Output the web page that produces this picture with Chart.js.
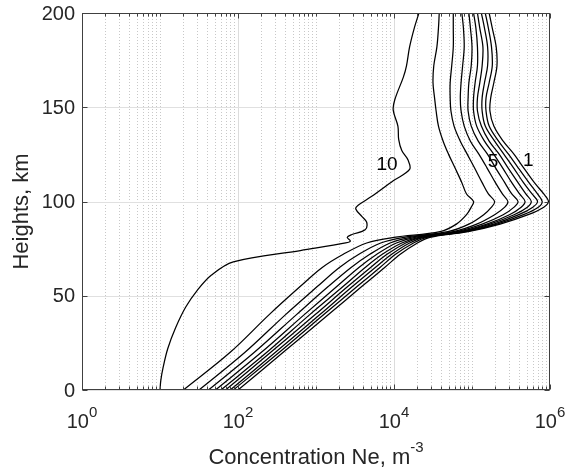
<!DOCTYPE html>
<html>
<head>
<meta charset="utf-8">
<script src="https://cdn.jsdelivr.net/npm/chart.js@4.4.0/dist/chart.umd.min.js"></script>
<style>
  html, body { margin: 0; padding: 0; background: #fff; }
  #wrap { width: 580px; height: 475px; }
</style>
</head>
<body>
<div id="wrap"><canvas id="neChart" width="580" height="475"></canvas></div>
<script>
// heights, km (shared by curves 1..9)
const heights = [0, 20, 40, 55, 65, 72, 78, 81, 84, 88, 93, 97, 100, 104, 110, 118, 125, 132, 140, 148, 155, 163, 172, 182, 192, 200];

// log10 of Ne, m^-3
const logNe1 = [2.00, 2.58, 3.16, 3.59, 3.88, 4.08, 4.30, 4.46, 4.95, 5.36, 5.72, 5.92, 5.98, 5.92, 5.80, 5.66, 5.54, 5.40, 5.28, 5.23, 5.24, 5.28, 5.32, 5.31, 5.26, 5.22];
const logNe2 = [1.94, 2.53, 3.10, 3.53, 3.82, 4.02, 4.25, 4.42, 4.92, 5.32, 5.66, 5.85, 5.90, 5.84, 5.73, 5.59, 5.47, 5.34, 5.22, 5.18, 5.18, 5.22, 5.26, 5.25, 5.21, 5.17];
const logNe3 = [1.90, 2.48, 3.05, 3.47, 3.76, 3.97, 4.20, 4.39, 4.90, 5.28, 5.60, 5.78, 5.84, 5.77, 5.66, 5.53, 5.41, 5.29, 5.17, 5.13, 5.13, 5.16, 5.20, 5.20, 5.16, 5.12];
const logNe4 = [1.84, 2.42, 2.99, 3.41, 3.70, 3.91, 4.15, 4.35, 4.87, 5.23, 5.54, 5.71, 5.76, 5.69, 5.59, 5.46, 5.35, 5.22, 5.12, 5.07, 5.07, 5.10, 5.13, 5.14, 5.10, 5.07];
const logNe5 = [1.78, 2.37, 2.92, 3.35, 3.63, 3.85, 4.10, 4.32, 4.84, 5.19, 5.48, 5.63, 5.68, 5.61, 5.51, 5.39, 5.28, 5.16, 5.06, 5.02, 5.02, 5.04, 5.07, 5.07, 5.05, 5.02];
const logNe6 = [1.71, 2.30, 2.85, 3.27, 3.55, 3.78, 4.03, 4.27, 4.80, 5.13, 5.40, 5.54, 5.59, 5.51, 5.42, 5.30, 5.20, 5.08, 4.99, 4.95, 4.95, 4.96, 4.99, 5.00, 4.98, 4.96];
const logNe7 = [1.62, 2.21, 2.75, 3.16, 3.45, 3.69, 3.95, 4.21, 4.76, 5.06, 5.29, 5.42, 5.46, 5.39, 5.30, 5.19, 5.09, 4.98, 4.90, 4.86, 4.85, 4.86, 4.88, 4.90, 4.89, 4.87];
const logNe8 = [1.50, 2.09, 2.61, 3.02, 3.30, 3.55, 3.83, 4.13, 4.69, 4.96, 5.15, 5.25, 5.29, 5.21, 5.13, 5.03, 4.94, 4.85, 4.77, 4.73, 4.72, 4.72, 4.74, 4.76, 4.76, 4.76];
const logNe9 = [1.30, 1.90, 2.40, 2.80, 3.08, 3.35, 3.65, 4.00, 4.59, 4.80, 4.93, 4.99, 5.02, 4.93, 4.87, 4.78, 4.70, 4.63, 4.57, 4.54, 4.52, 4.50, 4.51, 4.55, 4.57, 4.58];

// curve 10 has its own height grid
const heights10 = [0, 5, 12, 22, 33, 44, 53, 61, 68, 74, 78, 79, 81, 82.5, 85, 89, 92, 96, 98, 102.6, 111, 117, 122, 127, 133, 140, 148.5, 154, 166, 172, 182, 192, 200];
const logNe10 = [1.00, 1.01, 1.04, 1.10, 1.20, 1.33, 1.48, 1.66, 1.94, 2.80, 3.38, 3.44, 3.40, 3.46, 3.63, 3.65, 3.59, 3.51, 3.54, 3.71, 3.99, 4.20, 4.18, 4.10, 4.06, 4.05, 3.99, 4.01, 4.12, 4.16, 4.20, 4.26, 4.32];

const xTickPowers = [0, 2, 4, 6];
const yTickValues = [0, 50, 100, 150, 200];
const curveNames = ['10', '5', '1'];

const FONT = "'Liberation Sans', Arial, sans-serif";
const AXIS_COLOR = '#404040';
const TEXT_COLOR = '#262626';

const series = [logNe1, logNe2, logNe3, logNe4, logNe5, logNe6, logNe7, logNe8, logNe9];
const datasets = series.map((arr, i) => ({
  label: 'Curve ' + (i + 1),
  data: arr.map((v, j) => ({ x: 10 ** v, y: heights[j] }))
}));
datasets.push({
  label: 'Curve 10',
  data: logNe10.map((v, j) => ({ x: 10 ** v, y: heights10[j] }))
});
datasets.forEach(d => Object.assign(d, {
  showLine: true,
  borderColor: '#000',
  borderWidth: 1.25,
  pointRadius: 0,
  tension: 0.35,
  fill: false
}));

// where the curve numbers sit (data units)
const labelSpots = [
  { ne: 10 ** 3.91, h: 119.5 },
  { ne: 10 ** 5.27, h: 121 },
  { ne: 10 ** 5.72, h: 121.5 }
];

const frame = {
  id: 'frame',
  beforeDatasetsDraw(chart) {
    const { ctx, chartArea: a, scales: { x, y } } = chart;
    ctx.save();
    ctx.lineWidth = 1;
    // vertical grid
    for (let k = 0; k < 6; k++) {
      for (let m = 1; m <= 9; m++) {
        const px = Math.round(x.getPixelForValue(m * 10 ** k)) + 0.5;
        if (px <= a.left + 1) continue;
        const major = m === 1 && k % 2 === 0;
        ctx.strokeStyle = major ? '#dcdcdc' : '#c8c8c8';
        ctx.setLineDash(major ? [] : [1, 2]);
        ctx.beginPath();
        ctx.moveTo(px, a.top);
        ctx.lineTo(px, a.bottom);
        ctx.stroke();
      }
    }
    // horizontal grid
    ctx.setLineDash([]);
    ctx.strokeStyle = '#e0e0e0';
    yTickValues.forEach(v => {
      const py = Math.round(y.getPixelForValue(v)) + 0.5;
      ctx.beginPath();
      ctx.moveTo(a.left, py);
      ctx.lineTo(a.right, py);
      ctx.stroke();
    });
    ctx.restore();
  },
  afterDatasetsDraw(chart) {
    const { ctx, chartArea: a, scales: { x, y } } = chart;
    ctx.save();
    ctx.strokeStyle = AXIS_COLOR;
    ctx.lineWidth = 1;
    const L = Math.round(a.left) + 0.5, R = Math.round(a.right) - 0.5;
    const T = Math.round(a.top) + 0.5, B = Math.round(a.bottom) - 0.5;
    ctx.strokeRect(L, T, R - L, B - T);

    // x ticks, inward on bottom and top
    ctx.beginPath();
    for (let k = 0; k <= 6; k++) {
      for (let m = 1; m <= 9; m++) {
        if (k === 6 && m > 1) break;
        const px = Math.round(x.getPixelForValue(m * 10 ** k)) + 0.5;
        const len = (m === 1 && k % 2 === 0) ? 5 : 3;
        ctx.moveTo(px, B); ctx.lineTo(px, B - len);
        ctx.moveTo(px, T); ctx.lineTo(px, T + len);
      }
    }
    // y ticks, inward on left and right
    yTickValues.forEach(v => {
      const py = Math.round(y.getPixelForValue(v)) + 0.5;
      ctx.moveTo(L, py); ctx.lineTo(L + 5, py);
      ctx.moveTo(R, py); ctx.lineTo(R - 5, py);
    });
    ctx.stroke();

    ctx.fillStyle = TEXT_COLOR;

    // y tick labels
    ctx.font = '20px ' + FONT;
    ctx.textAlign = 'right';
    ctx.textBaseline = 'middle';
    yTickValues.forEach(v => {
      ctx.fillText(String(v), a.left - 7, y.getPixelForValue(v) + 1);
    });

    // x tick labels 10^n
    ctx.textBaseline = 'alphabetic';
    ctx.textAlign = 'left';
    xTickPowers.forEach(p => {
      const px = x.getPixelForValue(10 ** p);
      ctx.font = '20px ' + FONT;
      const wb = ctx.measureText('10').width;
      ctx.font = '15px ' + FONT;
      const ws = ctx.measureText(String(p)).width;
      const x0 = px - (wb + ws) / 2;
      ctx.font = '20px ' + FONT;
      ctx.fillText('10', x0, 428);
      ctx.font = '15px ' + FONT;
      ctx.fillText(String(p), x0 + wb, 417);
    });

    // x title with superscript
    const cx = (a.left + a.right) / 2;
    ctx.font = '22px ' + FONT;
    const t1 = 'Concentration Ne, m';
    const w1 = ctx.measureText(t1).width;
    ctx.font = '15px ' + FONT;
    const w2 = ctx.measureText('-3').width;
    const sx = cx - (w1 + w2) / 2;
    ctx.font = '22px ' + FONT;
    ctx.fillText(t1, sx, 464);
    ctx.font = '15px ' + FONT;
    ctx.fillText('-3', sx + w1, 452);

    // y title
    ctx.save();
    ctx.translate(22, (a.top + a.bottom) / 2 + 10);
    ctx.rotate(-Math.PI / 2);
    ctx.font = '22px ' + FONT;
    ctx.textAlign = 'center';
    ctx.textBaseline = 'middle';
    ctx.fillText('Heights, km', 0, 0);
    ctx.restore();

    // curve numbers
    ctx.fillStyle = '#000';
    ctx.font = '19px ' + FONT;
    ctx.textAlign = 'center';
    ctx.textBaseline = 'middle';
    curveNames.forEach((name, i) => {
      const s = labelSpots[i];
      ctx.fillText(name, x.getPixelForValue(s.ne), y.getPixelForValue(s.h));
    });
    ctx.restore();
  }
};

const ctx = document.getElementById('neChart').getContext('2d');
new Chart(ctx, {
  type: 'scatter',
  data: { datasets },
  options: {
    responsive: false,
    animation: false,
    layout: { padding: { top: 13, right: 30, left: 0, bottom: 0 } },
    plugins: { legend: { display: false }, tooltip: { enabled: false } },
    scales: {
      x: {
        type: 'logarithmic',
        min: 1,
        max: 1e6,
        grid: { display: false, drawTicks: false },
        border: { display: false },
        ticks: { display: false },
        afterFit(s) { s.height = 85; }
      },
      y: {
        min: 0,
        max: 200,
        grid: { display: false, drawTicks: false },
        border: { display: false },
        ticks: { display: false, stepSize: 50 },
        afterFit(s) { s.width = 82; }
      }
    }
  },
  plugins: [frame]
});
</script>
</body>
</html>
